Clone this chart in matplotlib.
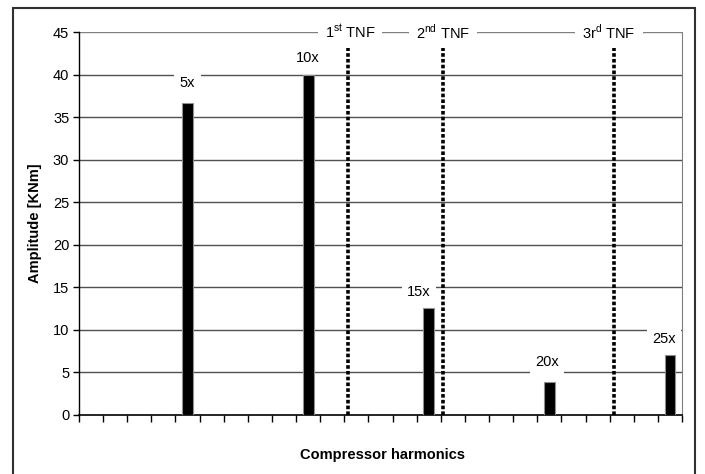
import matplotlib
matplotlib.use("Agg")
import matplotlib.pyplot as plt
from matplotlib.patches import Rectangle

plt.rcParams['font.family'] = ['Liberation Sans', 'DejaVu Sans']
plt.rcParams['mathtext.fontset'] = 'custom'
plt.rcParams['mathtext.rm'] = 'Liberation Sans'

# data
harmonics = [5, 10, 15, 20, 25]
amplitudes = [36.7, 40.0, 12.6, 3.9, 7.1]
bar_labels = ['5x', '10x', '15x', '20x', '25x']
label_x = [5.0, 10.0, 14.6, 19.9, 24.75]
label_y = [39.0, 41.9, 14.45, 6.2, 8.9]
n_harm = 25

tnf_x = [11.65, 15.59, 22.7]
tnf_top = 43.1
tnf_labels = ['1$^{\\mathrm{st}}$ TNF', '2$^{\\mathrm{nd}}$ TNF', '3r$^{\\mathrm{d}}$ TNF']
tnf_label_x = [11.74, 15.59, 22.47]

yticks = list(range(0, 50, 5))

fig = plt.figure(figsize=(7.05, 4.74), dpi=100)
ax = fig.add_axes([79/705, 59/474, 603/705, 383/474])

# outer frame (bottom edge falls off the picture)
fig.patches.append(Rectangle((13/705, -0.01), 682/705, 466/474 + 0.01,
                             transform=fig.transFigure, fill=False,
                             edgecolor='#303030', linewidth=1.5))

for v in yticks[1:]:
    c = '#808080' if v == 45 else '#505050'
    ax.axhline(v, color=c, linewidth=1, zorder=1)

ax.bar(harmonics, amplitudes, width=0.45, color='black',
       edgecolor='#909090', linewidth=0.8, zorder=3)

for x in tnf_x:
    ax.plot([x, x], [0, tnf_top], color='black', linewidth=2.6,
            linestyle=(0, (1, 0.6)), zorder=4)

for x, y, t in zip(label_x, label_y, bar_labels):
    ax.text(x, y, t, ha='center', va='center', fontsize=10.5, zorder=5,
            bbox=dict(facecolor='white', edgecolor='none', pad=4))

for x, t in zip(tnf_label_x, tnf_labels):
    ax.text(x, 45, t, ha='center', va='center', fontsize=10.5, zorder=5,
            bbox=dict(facecolor='white', edgecolor='none', pad=5))

ax.set_xlim(0.5, n_harm + 0.5)
ax.set_ylim(0, 45)
ax.set_yticks(yticks)
ax.set_xticks([i + 0.5 for i in range(n_harm + 1)])
ax.set_xticklabels([])
ax.tick_params(axis='x', direction='out', length=5, width=1, colors='black')
ax.tick_params(axis='y', direction='out', length=4, width=1, pad=3, labelsize=10.5)

ax.spines['top'].set_visible(False)
ax.spines['right'].set_color('#808080')
ax.spines['left'].set_linewidth(1)
ax.spines['bottom'].set_linewidth(1.2)

fig.text(35/705, 1 - 223/474, 'Amplitude [KNm]', rotation=90, ha='center',
         va='center', fontsize=10.5, fontweight='bold')
fig.text(382/705, 1 - 455/474, 'Compressor harmonics', ha='center',
         va='center', fontsize=10.5, fontweight='bold')

fig.savefig('out.png', dpi=100)
